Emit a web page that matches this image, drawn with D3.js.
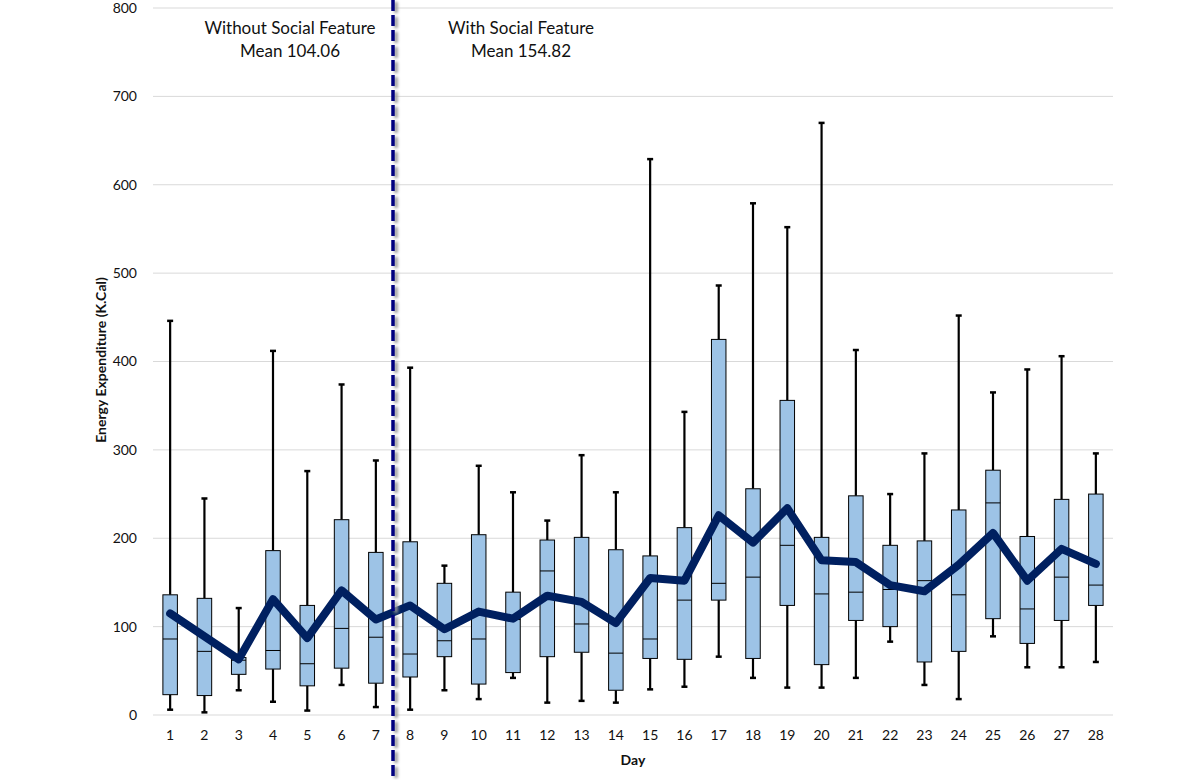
<!DOCTYPE html>
<html>
<head>
<meta charset="utf-8">
<script src="https://cdn.jsdelivr.net/npm/d3@7"></script>
<style>
  body { margin: 0; background: #fff; }
  svg text { font-family: Lato, "Open Sans", sans-serif; }
</style>
</head>
<body>
<svg id="vis" width="1200" height="780"></svg>
<script>
// values
var days = d3.range(1, 29);
var whiskerHigh = [446, 245, 121, 412, 276, 374, 288, 393, 169, 282, 252, 220, 294, 252, 629, 343, 486, 579, 552, 670, 413, 250, 296, 452, 365, 391, 406, 296];
var q3 = [136, 132, 65, 186, 124, 221, 184, 196, 149, 204, 139, 198, 201, 187, 180, 212, 425, 256, 356, 201, 248, 192, 197, 232, 277, 202, 244, 250];
var median = [86, 72, 62, 73, 58, 98, 88, 69, 84, 86, 108, 163, 103, 70, 86, 130, 149, 156, 192, 137, 139, 142, 152, 136, 240, 120, 156, 147];
var q1 = [23, 22, 46, 52, 33, 53, 36, 43, 66, 35, 48, 66, 71, 28, 64, 63, 130, 64, 124, 57, 107, 100, 60, 72, 109, 81, 107, 124];
var whiskerLow = [6, 3, 28, 15, 5, 34, 9, 6, 28, 18, 42, 14, 16, 14, 29, 32, 66, 42, 31, 31, 42, 83, 34, 18, 89, 54, 54, 60];
var means = [115, 89, 63, 131, 87, 141, 108, 124, 97, 117, 109, 135, 128, 104, 155, 152, 226, 195, 234, 175, 173, 147, 140, 170, 206, 152, 188, 171];
var yTicks = [0, 100, 200, 300, 400, 500, 600, 700, 800];

var svg = d3.select("#vis");

var x = d3.scaleBand().domain(days).range([153, 1113]).padding(0);
var y = d3.scaleLinear().domain([0, 800]).range([715, 8]);
var boxW = 14.5;
var cx = d => x(d) + x.bandwidth() / 2;

// gridlines
svg.append("g")
   .selectAll("line")
   .data(yTicks)
   .enter()
   .append("line")
   .attr("x1", 153).attr("x2", 1113)
   .attr("y1", d => y(d)).attr("y2", d => y(d))
   .style("stroke", "#d9d9d9")
   .style("stroke-width", 1);

// y tick labels
svg.append("g")
   .selectAll("text")
   .data(yTicks)
   .enter()
   .append("text")
   .attr("x", 137)
   .attr("y", d => y(d))
   .attr("dy", "0.35em")
   .attr("text-anchor", "end")
   .style("font-size", "14px")
   .style("fill", "#111")
   .text(d => d);

// x tick labels
svg.append("g")
   .selectAll("text")
   .data(days)
   .enter()
   .append("text")
   .attr("x", d => cx(d))
   .attr("y", 735)
   .attr("dy", "0.35em")
   .attr("text-anchor", "middle")
   .style("font-size", "14px")
   .style("fill", "#111")
   .text(d => d);

// boxes
var boxes = svg.append("g")
   .selectAll("g")
   .data(days)
   .enter()
   .append("g");

boxes.append("line")
     .attr("x1", d => cx(d)).attr("x2", d => cx(d))
     .attr("y1", (d, i) => y(whiskerHigh[i])).attr("y2", (d, i) => y(q3[i]))
     .style("stroke", "#000").style("stroke-width", 2.2);
boxes.append("line")
     .attr("x1", d => cx(d)).attr("x2", d => cx(d))
     .attr("y1", (d, i) => y(q1[i])).attr("y2", (d, i) => y(whiskerLow[i]))
     .style("stroke", "#000").style("stroke-width", 2.2);
boxes.append("line")
     .attr("x1", d => cx(d) - 3).attr("x2", d => cx(d) + 3)
     .attr("y1", (d, i) => y(whiskerHigh[i])).attr("y2", (d, i) => y(whiskerHigh[i]))
     .style("stroke", "#000").style("stroke-width", 2.5);
boxes.append("line")
     .attr("x1", d => cx(d) - 3).attr("x2", d => cx(d) + 3)
     .attr("y1", (d, i) => y(whiskerLow[i])).attr("y2", (d, i) => y(whiskerLow[i]))
     .style("stroke", "#000").style("stroke-width", 2.5);
boxes.append("rect")
     .attr("x", d => cx(d) - boxW / 2)
     .attr("width", boxW)
     .attr("y", (d, i) => y(q3[i]))
     .attr("height", (d, i) => y(q1[i]) - y(q3[i]))
     .style("fill", "#9dc3e6")
     .style("stroke", "#000")
     .style("stroke-width", 1);
boxes.append("line")
     .attr("x1", d => cx(d) - boxW / 2).attr("x2", d => cx(d) + boxW / 2)
     .attr("y1", (d, i) => y(median[i])).attr("y2", (d, i) => y(median[i]))
     .style("stroke", "#000").style("stroke-width", 1);

// mean line
var line = d3.line()
             .x((d, i) => cx(days[i]))
             .y(d => y(d));
svg.append("path")
   .datum(means)
   .attr("d", line)
   .style("fill", "none")
   .style("stroke", "#002060")
   .style("stroke-width", 8)
   .style("stroke-linejoin", "round")
   .style("stroke-linecap", "round");

// dashed divider with soft shadow
var defs = svg.append("defs");
defs.append("filter")
    .attr("id", "blur")
    .attr("filterUnits", "userSpaceOnUse")
    .attr("x", 0).attr("y", 0).attr("width", 1200).attr("height", 780)
    .append("feGaussianBlur")
    .attr("stdDeviation", 1.6);

var splitX = (x(7) + x.bandwidth() + x(8)) / 2;
svg.append("line")
   .attr("x1", splitX + 3).attr("x2", splitX + 3)
   .attr("y1", 2).attr("y2", 782)
   .style("stroke", "#999")
   .style("stroke-width", 3.5)
   .style("stroke-dasharray", "11,4")
   .attr("filter", "url(#blur)");
svg.append("line")
   .attr("x1", splitX).attr("x2", splitX)
   .attr("y1", 0).attr("y2", 780)
   .style("stroke", "#000080")
   .style("stroke-width", 3.5)
   .style("stroke-dasharray", "11,4");

// annotations
var notes = [
	{ x: 290, lines: ["Without Social Feature", "Mean 104.06"] },
	{ x: 521, lines: ["With Social Feature", "Mean 154.82"] }
];
notes.forEach(n => {
	n.lines.forEach((t, i) => {
		svg.append("text")
		   .attr("x", n.x)
		   .attr("y", 28 + i * 23)
		   .attr("dy", "0.35em")
		   .attr("text-anchor", "middle")
		   .style("font-size", "17px")
		   .style("fill", "#111")
		   .text(t);
	});
});

// axis titles
svg.append("text")
   .attr("transform", "translate(106,360) rotate(-90)")
   .attr("text-anchor", "middle")
   .style("font-size", "14px")
   .style("font-weight", "bold")
   .style("fill", "#111")
   .text("Energy Expenditure (K.Cal)");

svg.append("text")
   .attr("x", 633)
   .attr("y", 760)
   .attr("dy", "0.35em")
   .attr("text-anchor", "middle")
   .style("font-size", "14px")
   .style("font-weight", "bold")
   .style("fill", "#111")
   .text("Day");
</script>
</body>
</html>
